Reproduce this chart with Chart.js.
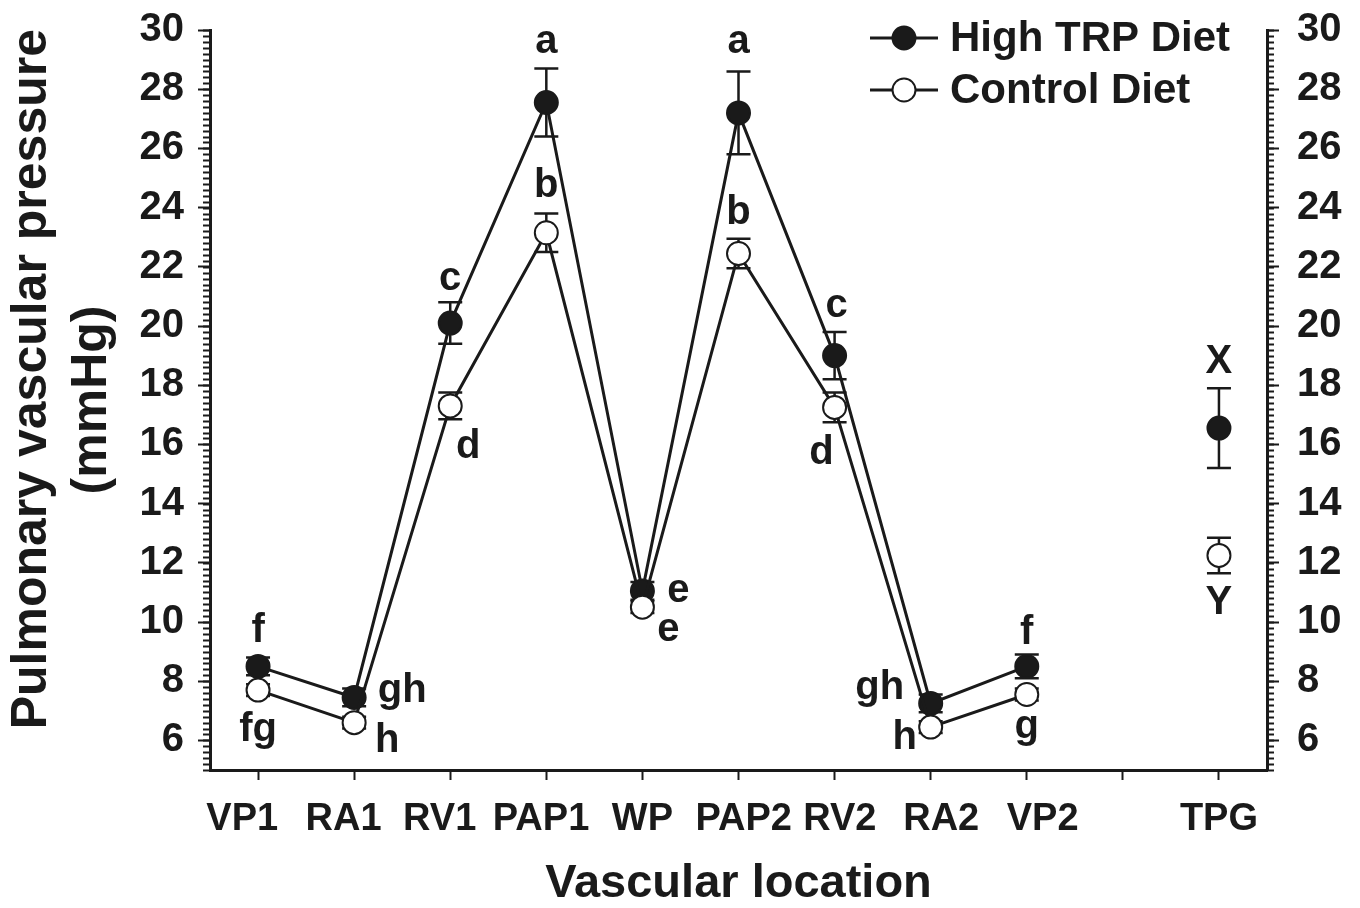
<!DOCTYPE html>
<html>
<head>
<meta charset="utf-8">
<script src="https://cdn.jsdelivr.net/npm/chart.js@4.4.1/dist/chart.umd.min.js"></script>
<style>
  html, body { margin: 0; padding: 0; background: #fff; }
  #wrap { width: 1360px; height: 908px; }
</style>
</head>
<body>
<div id="wrap"><canvas id="chartPressure"></canvas></div>
<script>
// categories along the x axis (slot 10 is an empty gap before TPG)
const categories = ['VP1', 'RA1', 'RV1', 'PAP1', 'WP', 'PAP2', 'RV2', 'RA2', 'VP2', '', 'TPG'];

// High TRP diet, mean and SEM for VP1..VP2
const highTrp    = [8.5, 7.45, 20.1, 27.55, 11.05, 27.2, 19.0, 7.25, 8.5];
const highTrpErr = [0.3, 0.3, 0.7, 1.15, 0.3, 1.4, 0.8, 0.3, 0.4];
// Control diet
const control    = [7.7, 6.6, 17.3, 23.15, 10.5, 22.45, 17.25, 6.45, 7.55];
const controlErr = [0.2, 0.2, 0.45, 0.65, 0.2, 0.5, 0.5, 0.2, 0.2];

// transpulmonary gradient
const tpgHigh = [16.55];
const tpgHighErr = [1.35];
const tpgControl = [12.25];
const tpgControlErr = [0.6];

// significance letters
const sigHigh    = ['f', 'gh', 'c', 'a', 'e', 'a', 'c', 'gh', 'f'];
const sigControl = ['fg', 'h', 'd', 'b', 'e', 'b', 'd', 'h', 'g'];
const sigTpg     = ['X', 'Y'];

const yTicks = [6, 8, 10, 12, 14, 16, 18, 20, 22, 24, 26, 28, 30];

// pixel offsets of letters from their points
const offHigh    = [[0, -35], [48, -7], [0, -44], [0, -61], [36, 0], [0, -71], [2, -50], [-51, -15], [0, -33]];
const offControl = [[0, 40], [33, 18], [18, 41], [0, -47], [26, 23], [0, -41], [-13, 46], [-26, 11], [0, 32]];
const offTpg     = [[0, -66], [0, 48]];
// x label nudge, in spaces (negative = pushed left)
const labelNudge = [-3, -2, -2, -1, 0, 1, 1, 2, 3, 0, 0];

const INK = '#1a1a1a';
const FONT = "'Liberation Sans', Arial, sans-serif";

function toPoints(vals, start) {
    return vals.map((v, i) => ({ x: start + i, y: v }));
}

const errorBars = {
    id: 'errorBars',
    beforeDatasetsDraw(chart) {
        const ctx = chart.ctx;
        const yScale = chart.scales.y;
        ctx.save();
        ctx.strokeStyle = INK;
        ctx.lineWidth = 2.5;
        chart.data.datasets.forEach((ds, di) => {
            const meta = chart.getDatasetMeta(di);
            meta.data.forEach((pt, i) => {
                const v = ds.data[i].y;
                const e = ds.errors[i];
                const top = yScale.getPixelForValue(v + e);
                const bot = yScale.getPixelForValue(v - e);
                ctx.beginPath();
                ctx.moveTo(pt.x, top); ctx.lineTo(pt.x, bot);
                ctx.moveTo(pt.x - 12, top); ctx.lineTo(pt.x + 12, top);
                ctx.moveTo(pt.x - 12, bot); ctx.lineTo(pt.x + 12, bot);
                ctx.stroke();
            });
        });
        ctx.restore();
    }
};

const decorations = {
    id: 'decorations',
    afterDraw(chart) {
        const ctx = chart.ctx;
        const y = chart.scales.y;
        const area = chart.chartArea;
        ctx.save();
        ctx.strokeStyle = INK;
        ctx.fillStyle = INK;

        // minor ticks on both y axes
        ctx.lineWidth = 2;
        ctx.beginPath();
        for (let k = 0; k <= 125; k++) {
            const v = 5 + k * 0.2;
            const py = Math.round(y.getPixelForValue(v)) + 0.5;
            ctx.moveTo(area.left - 7, py); ctx.lineTo(area.left, py);
            ctx.moveTo(area.right, py); ctx.lineTo(area.right + 7, py);
        }
        ctx.stroke();

        // letters
        ctx.font = 'bold 40px ' + FONT;
        ctx.textAlign = 'center';
        ctx.textBaseline = 'middle';
        const put = (dsIndex, labels, offs) => {
            chart.getDatasetMeta(dsIndex).data.forEach((pt, i) => {
                ctx.fillText(labels[i], pt.x + offs[i][0], pt.y + offs[i][1]);
            });
        };
        put(0, sigControl, offControl);
        put(1, sigHigh, offHigh);
        put(2, [sigTpg[0]], [offTpg[0]]);
        put(3, [sigTpg[1]], [offTpg[1]]);

        // legend
        const items = [
            { label: 'High TRP Diet', fill: INK, y: 38 },
            { label: 'Control Diet', fill: '#fff', y: 90 }
        ];
        items.forEach(it => {
            ctx.lineWidth = 3;
            ctx.beginPath();
            ctx.moveTo(870, it.y); ctx.lineTo(938, it.y);
            ctx.stroke();
            ctx.beginPath();
            ctx.arc(904, it.y, 11.5, 0, Math.PI * 2);
            ctx.fillStyle = it.fill;
            ctx.fill();
            ctx.lineWidth = 2;
            ctx.stroke();
            ctx.fillStyle = INK;
            ctx.font = 'bold 42px ' + FONT;
            ctx.textAlign = 'left';
            ctx.fillText(it.label, 950, it.y + 1);
        });
        ctx.restore();
    }
};

const yAxisBase = {
    type: 'linear',
    min: 5,
    max: 30,
    afterBuildTicks: (scale) => { scale.ticks = yTicks.map(v => ({ value: v })); },
    border: { display: true, color: INK, width: 3 },
    grid: { drawOnChartArea: false, color: INK, tickColor: INK, tickLength: 12, tickWidth: 2 },
    ticks: { color: INK, font: { family: FONT, size: 40, weight: 'bold' }, padding: 14 }
};

function nudged(i) {
    const n = labelNudge[i] || 0;
    const pad = ' '.repeat(Math.abs(n));
    return n < 0 ? categories[i] + pad : pad + categories[i];
}

new Chart(document.getElementById('chartPressure'), {
    type: 'line',
    data: {
        datasets: [
            {
                label: 'Control Diet',
                data: toPoints(control, 1),
                errors: controlErr,
                borderColor: INK, borderWidth: 3,
                pointRadius: 11.5, pointBorderWidth: 2,
                pointBackgroundColor: '#fff', pointBorderColor: INK,
                order: 1
            },
            {
                label: 'High TRP Diet',
                data: toPoints(highTrp, 1),
                errors: highTrpErr,
                borderColor: INK, borderWidth: 3,
                pointRadius: 11.5, pointBorderWidth: 2,
                pointBackgroundColor: INK, pointBorderColor: INK,
                order: 2
            },
            {
                label: 'TPG High TRP',
                data: toPoints(tpgHigh, 11),
                errors: tpgHighErr,
                showLine: false,
                pointRadius: 11.5, pointBorderWidth: 2,
                pointBackgroundColor: INK, pointBorderColor: INK,
                order: 2
            },
            {
                label: 'TPG Control',
                data: toPoints(tpgControl, 11),
                errors: tpgControlErr,
                showLine: false,
                pointRadius: 11.5, pointBorderWidth: 2,
                pointBackgroundColor: '#fff', pointBorderColor: INK,
                order: 1
            }
        ]
    },
    options: {
        responsive: true,
        maintainAspectRatio: false,
        animation: false,
        layout: { padding: { top: 30, left: 0, right: 0, bottom: 0 } },
        plugins: { legend: { display: false }, tooltip: { enabled: false } },
        scales: {
            x: {
                type: 'linear',
                min: 0.5,
                max: 11.5,
                afterBuildTicks: (scale) => { scale.ticks = categories.map((c, i) => ({ value: i + 1 })); },
                afterFit: (scale) => { scale.height = 138; scale.paddingLeft = 0; scale.paddingRight = 0; },
                border: { display: true, color: INK, width: 3 },
                grid: { drawOnChartArea: false, color: INK, tickColor: INK, tickLength: 10, tickWidth: 2 },
                ticks: {
                    color: INK, autoSkip: false, maxRotation: 0, padding: 17,
                    font: { family: FONT, size: 38, weight: 'bold' },
                    callback: (v) => nudged(Math.round(v) - 1)
                },
                title: {
                    display: true, text: 'Vascular location', color: INK,
                    font: { family: FONT, size: 47, weight: 'bold', lineHeight: 1.2 },
                    padding: { top: 0, bottom: -4 }
                }
            },
            y: Object.assign({}, yAxisBase, {
                position: 'left',
                afterFit: (scale) => { scale.width = 210; scale.paddingTop = 0; scale.paddingBottom = 0; },
                title: {
                    display: true,
                    text: ['   Pulmonary vascular pressure', '(mmHg)'],
                    color: INK,
                    font: { family: FONT, size: 50, weight: 'bold', lineHeight: 1.2 },
                    padding: { top: 2, bottom: 0 }
                }
            }),
            yR: Object.assign({}, yAxisBase, {
                position: 'right',
                afterFit: (scale) => { scale.width = 93; scale.paddingTop = 0; scale.paddingBottom = 0; },
                ticks: Object.assign({}, yAxisBase.ticks, { padding: 18 })
            })
        }
    },
    plugins: [errorBars, decorations]
});
</script>
</body>
</html>
